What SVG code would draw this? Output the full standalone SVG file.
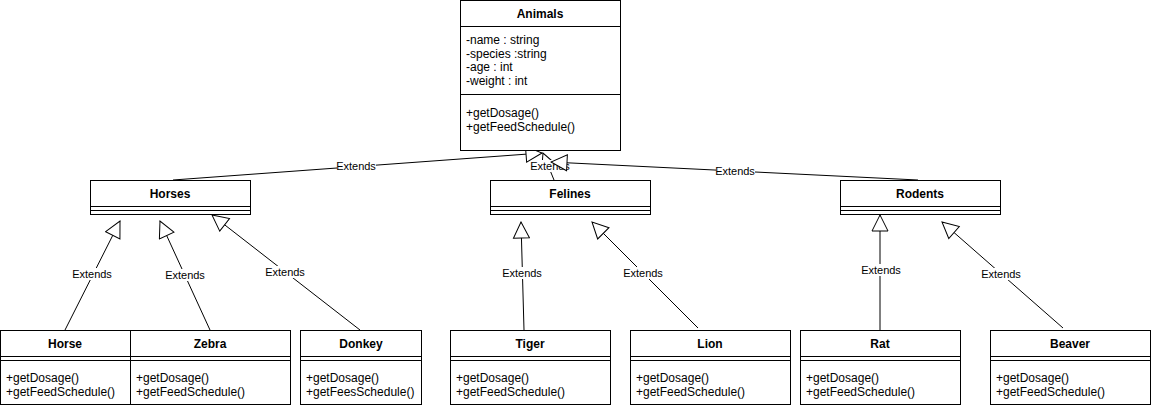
<svg xmlns="http://www.w3.org/2000/svg" width="1151" height="408" viewBox="0 0 1151 408">
<style>
.box{fill:#fff;stroke:#000;stroke-width:1}
.ln{stroke:#000;stroke-width:1;fill:none}
.t{font-family:"Liberation Sans",Arial,Helvetica,sans-serif;font-size:12px;fill:#000}
.b{font-weight:bold;text-anchor:middle}
.lbl{font-family:"Liberation Sans",Arial,Helvetica,sans-serif;font-size:11px;fill:#000;text-anchor:middle}
.lbg{fill:#fff}
.edge{stroke:#000;stroke-width:1;fill:none;marker-end:url(#tri)}
</style>
<defs>
<marker id="tri" viewBox="0 0 18 18" refX="17" refY="9" markerWidth="18" markerHeight="18" markerUnits="userSpaceOnUse" orient="auto">
<path d="M1,1 L17,9 L1,17 Z" fill="#fff" stroke="#000" stroke-width="1"/>
</marker>
</defs>
<rect width="1151" height="408" fill="#fff"/>
<g id="connectors">
<path class="edge" d="M173,180 L542,153"/>
<rect class="lbg" x="337" y="160" width="39" height="12"/><text class="lbl" x="356" y="170">Extends</text>
<path class="edge" d="M554,180 L543,153"/>
<rect class="lbg" x="531" y="160" width="39" height="12"/><text class="lbl" x="550" y="170">Extends</text>
<path class="edge" d="M918,180 L551,162"/>
<rect class="lbg" x="716" y="165" width="39" height="12"/><text class="lbl" x="735" y="175">Extends</text>
<path class="edge" d="M65,330 L120,221"/>
<rect class="lbg" x="73" y="268" width="39" height="12"/><text class="lbl" x="92" y="278">Extends</text>
<path class="edge" d="M210,330 L160,221"/>
<rect class="lbg" x="166" y="269" width="39" height="12"/><text class="lbl" x="185" y="279">Extends</text>
<path class="edge" d="M360,330 L212,215"/>
<rect class="lbg" x="266" y="266" width="39" height="12"/><text class="lbl" x="285" y="276">Extends</text>
<path class="edge" d="M524,330 L521,222"/>
<rect class="lbg" x="503" y="267" width="39" height="12"/><text class="lbl" x="522" y="277">Extends</text>
<path class="edge" d="M698,328 L592,222"/>
<rect class="lbg" x="624" y="267" width="39" height="12"/><text class="lbl" x="643" y="277">Extends</text>
<path class="edge" d="M880,330 L880,215"/>
<rect class="lbg" x="862" y="264" width="39" height="12"/><text class="lbl" x="881" y="274">Extends</text>
<path class="edge" d="M1063,328 L942,222"/>
<rect class="lbg" x="982" y="268" width="39" height="12"/><text class="lbl" x="1001" y="278">Extends</text>
</g>
<g id="animals">
<rect class="box" x="460.5" y="0.5" width="160" height="150"/>
<line class="ln" x1="460.5" y1="26.5" x2="620.5" y2="26.5"/>
<line class="ln" x1="460.5" y1="94.5" x2="620.5" y2="94.5"/>
<text class="t b" x="540" y="18">Animals</text>
<text class="t" x="466" y="44">-name : string</text>
<text class="t" x="466" y="58">-species :string</text>
<text class="t" x="466" y="71">-age : int</text>
<text class="t" x="466" y="85">-weight : int</text>
<text class="t" x="466" y="117">+getDosage()</text>
<text class="t" x="466" y="131">+getFeedSchedule()</text>
</g>
<g id="horses">
<rect class="box" x="90.5" y="180.5" width="160" height="34"/>
<line class="ln" x1="90.5" y1="206.5" x2="250.5" y2="206.5"/>
<line class="ln" x1="90.5" y1="210.5" x2="250.5" y2="210.5"/>
<text class="t b" x="170" y="198">Horses</text>
</g>
<g id="felines">
<rect class="box" x="490.5" y="180.5" width="160" height="34"/>
<line class="ln" x1="490.5" y1="206.5" x2="650.5" y2="206.5"/>
<line class="ln" x1="490.5" y1="210.5" x2="650.5" y2="210.5"/>
<text class="t b" x="570" y="198">Felines</text>
</g>
<g id="rodents">
<rect class="box" x="840.5" y="180.5" width="160" height="34"/>
<line class="ln" x1="840.5" y1="206.5" x2="1000.5" y2="206.5"/>
<line class="ln" x1="840.5" y1="210.5" x2="1000.5" y2="210.5"/>
<text class="t b" x="920" y="198">Rodents</text>
</g>
<g id="horse">
<rect class="box" x="0.5" y="330.5" width="130" height="74"/>
<line class="ln" x1="0.5" y1="356.5" x2="130.5" y2="356.5"/>
<line class="ln" x1="0.5" y1="360.5" x2="130.5" y2="360.5"/>
<text class="t b" x="65" y="348">Horse</text>
<text class="t" x="6" y="382">+getDosage()</text>
<text class="t" x="6" y="396">+getFeedSchedule()</text>
</g>
<g id="zebra">
<rect class="box" x="130.5" y="330.5" width="160" height="74"/>
<line class="ln" x1="130.5" y1="356.5" x2="290.5" y2="356.5"/>
<line class="ln" x1="130.5" y1="360.5" x2="290.5" y2="360.5"/>
<text class="t b" x="210" y="348">Zebra</text>
<text class="t" x="136" y="382">+getDosage()</text>
<text class="t" x="136" y="396">+getFeedSchedule()</text>
</g>
<g id="donkey">
<rect class="box" x="300.5" y="330.5" width="121" height="74"/>
<line class="ln" x1="300.5" y1="356.5" x2="421.5" y2="356.5"/>
<line class="ln" x1="300.5" y1="360.5" x2="421.5" y2="360.5"/>
<text class="t b" x="361" y="348">Donkey</text>
<text class="t" x="306" y="382">+getDosage()</text>
<text class="t" x="306" y="396">+getFeesSchedule()</text>
</g>
<g id="tiger">
<rect class="box" x="450.5" y="330.5" width="160" height="74"/>
<line class="ln" x1="450.5" y1="356.5" x2="610.5" y2="356.5"/>
<line class="ln" x1="450.5" y1="360.5" x2="610.5" y2="360.5"/>
<text class="t b" x="530" y="348">Tiger</text>
<text class="t" x="456" y="382">+getDosage()</text>
<text class="t" x="456" y="396">+getFeedSchedule()</text>
</g>
<g id="lion">
<rect class="box" x="630.5" y="330.5" width="160" height="74"/>
<line class="ln" x1="630.5" y1="356.5" x2="790.5" y2="356.5"/>
<line class="ln" x1="630.5" y1="360.5" x2="790.5" y2="360.5"/>
<text class="t b" x="710" y="348">Lion</text>
<text class="t" x="636" y="382">+getDosage()</text>
<text class="t" x="636" y="396">+getFeedSchedule()</text>
</g>
<g id="rat">
<rect class="box" x="800.5" y="330.5" width="160" height="74"/>
<line class="ln" x1="800.5" y1="356.5" x2="960.5" y2="356.5"/>
<line class="ln" x1="800.5" y1="360.5" x2="960.5" y2="360.5"/>
<text class="t b" x="880" y="348">Rat</text>
<text class="t" x="806" y="382">+getDosage()</text>
<text class="t" x="806" y="396">+getFeedSchedule()</text>
</g>
<g id="beaver">
<rect class="box" x="990.5" y="330.5" width="160" height="74"/>
<line class="ln" x1="990.5" y1="356.5" x2="1150.5" y2="356.5"/>
<line class="ln" x1="990.5" y1="360.5" x2="1150.5" y2="360.5"/>
<text class="t b" x="1070" y="348">Beaver</text>
<text class="t" x="996" y="382">+getDosage()</text>
<text class="t" x="996" y="396">+getFeedSchedule()</text>
</g>
</svg>
